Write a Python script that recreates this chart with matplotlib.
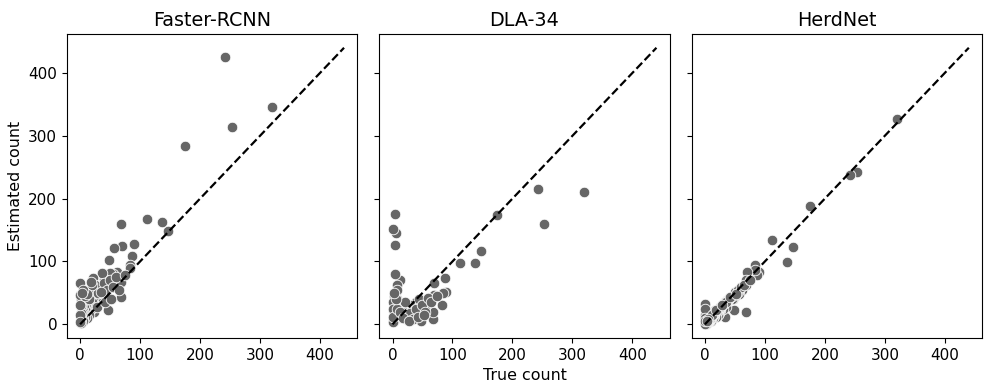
import matplotlib
matplotlib.use("Agg")
import matplotlib.pyplot as plt
import numpy as np

models = ["Faster-RCNN", "DLA-34", "HerdNet"]

true_count = [320, 253, 242, 175, 147, 137, 112, 90, 87, 84, 83, 70, 69, 68, 68,
              62, 57, 55, 50, 48, 47, 45, 39, 37, 36, 36, 34, 33, 30, 28,
              26, 25, 23, 22, 22, 22, 20, 18, 17, 16, 15, 14, 13, 12, 11,
              10, 10, 9, 8, 8, 7, 7, 6, 5, 5, 4, 4, 4, 3, 3,
              2, 2, 2, 1, 1, 0, 0, 0, 0, 0,
              15, 25, 30, 40, 45, 50, 55, 60, 35, 20, 8, 12, 18, 28, 42, 52, 65, 75, 5, 3]

est_frcnn = [345, 314, 426, 284, 148, 162, 167, 127, 108, 95, 89, 124, 67, 160, 43,
             83, 121, 80, 81, 102, 22, 60, 72, 45, 81, 46, 38, 58, 55, 35,
             48, 30, 20, 73, 54, 41, 35, 25, 45, 30, 15, 55, 38, 25, 10,
             50, 28, 40, 24, 12, 35, 18, 30, 21, 8, 14, 35, 5, 40, 20,
             29, 40, 10, 18, 2, 65, 46, 15, 3, 30,
             40, 62, 50, 65, 55, 70, 60, 75, 52, 62, 45, 48, 68, 28, 35, 40, 55, 78, 55, 50]

est_dla = [211, 159, 215, 174, 117, 97, 98, 51, 73, 50, 30, 66, 46, 8, 20,
           40, 33, 28, 25, 6, 30, 17, 35, 17, 20, 28, 25, 14, 30, 22,
           12, 20, 30, 25, 18, 8, 22, 15, 30, 10, 25, 20, 12, 71, 35,
           20, 15, 28, 10, 40, 62, 54, 20, 145, 12, 175, 126, 80, 30, 15,
           10, 45, 5, 152, 22, 35, 25, 8, 3, 12,
           20, 12, 18, 25, 40, 30, 20, 42, 8, 35, 25, 20, 10, 5, 12, 15, 35, 45, 40, 50]

est_herdnet = [326, 242, 237, 189, 123, 99, 134, 83, 78, 94, 86, 83, 20, 62, 70,
               54, 49, 52, 45, 22, 40, 41, 38, 38, 30, 28, 11, 35, 25, 30,
               22, 26, 18, 20, 24, 15, 20, 12, 22, 14, 16, 10, 18, 14, 8,
               12, 6, 10, 12, 7, 8, 5, 10, 4, 6, 3, 20, 2, 8, 5,
               3, 4, 1, 32, 2, 15, 25, 10, 0, 5,
               18, 28, 32, 42, 45, 52, 55, 60, 35, 22, 10, 15, 22, 30, 44, 48, 62, 70, 8, 6]

line_max = 440

fig, axes = plt.subplots(1, 3, figsize=(9.84, 3.9), dpi=100, sharex=True, sharey=True)
fig.subplots_adjust(left=0.068, right=0.998, top=0.913, bottom=0.133, wspace=0.076)

for ax, name, est in zip(axes, models, [est_frcnn, est_dla, est_herdnet]):
    ax.scatter(true_count, est, s=58, color="#666666", edgecolors="white",
               linewidths=0.6, zorder=2)
    ax.plot([0, line_max], [0, line_max], color="black", ls="--", lw=1.6, zorder=3)
    ax.set_title(name, fontsize=13.8)
    ax.tick_params(labelsize=11)

axes[0].set_xlim(-22, 462)
axes[0].set_ylim(-22, 462)
axes[0].set_xticks([0, 100, 200, 300, 400])
axes[0].set_yticks([0, 100, 200, 300, 400])
axes[0].set_ylabel("Estimated count", fontsize=11.4)
axes[1].set_xlabel("True count", fontsize=11.4)

fig.savefig("out.png", dpi=100)
